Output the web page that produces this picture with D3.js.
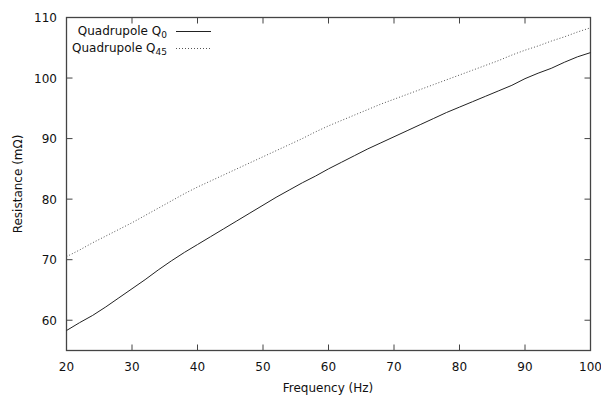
<!DOCTYPE html>
<html><head><meta charset="utf-8">
<script src="https://cdn.jsdelivr.net/npm/d3@7"></script>
<style>body{margin:0;background:#fff}svg{display:block}text{font-family:"DejaVu Sans",sans-serif;fill:#111}</style>
</head><body><svg id="c" width="601" height="402"></svg>
<script>
const freq = [20,22,24,26,28,30,32,34,36,38,40,42,44,46,48,50,52,54,56,58,60,62,64,66,68,70,72,74,76,78,80,82,84,86,88,90,92,94,96,98,100];
const q0 = [58.3,59.6,60.8,62.2,63.7,65.2,66.7,68.3,69.8,71.2,72.5,73.8,75.1,76.4,77.7,79.0,80.3,81.5,82.7,83.8,85.0,86.1,87.2,88.3,89.3,90.3,91.3,92.3,93.3,94.3,95.2,96.1,97.0,97.9,98.8,99.9,100.8,101.6,102.6,103.5,104.2];
const q45 = [70.5,71.6,72.8,73.9,75.0,76.1,77.3,78.5,79.7,80.9,82.0,83.0,84.0,85.0,86.0,87.0,88.0,89.0,90.0,91.1,92.1,93.0,93.9,94.8,95.7,96.5,97.3,98.1,98.9,99.7,100.5,101.3,102.1,102.9,103.8,104.6,105.3,106.1,106.8,107.6,108.3];
const xTicks = [20,30,40,50,60,70,80,90,100];
const yTicks = [60,70,80,90,100,110];

const svg = d3.select("#c");
const L=66.5, R=590.5, T=17.5, B=350.5;
const x = d3.scaleLinear().domain([20,100]).range([L,R]);
const y = d3.scaleLinear().domain([55,110]).range([B,T]);
const axisCol="#444", tl=6;

const g = svg.append("g").attr("stroke",axisCol).attr("stroke-width",1);
xTicks.forEach(v=>{
  g.append("line").attr("x1",x(v)).attr("x2",x(v)).attr("y1",B).attr("y2",B-tl);
  g.append("line").attr("x1",x(v)).attr("x2",x(v)).attr("y1",T).attr("y2",T+tl);
});
yTicks.forEach(v=>{
  g.append("line").attr("x1",L).attr("x2",L+tl).attr("y1",y(v)).attr("y2",y(v));
  g.append("line").attr("x1",R).attr("x2",R-tl).attr("y1",y(v)).attr("y2",y(v));
});
svg.append("rect").attr("x",L).attr("y",T).attr("width",R-L).attr("height",B-T)
  .attr("fill","none").attr("stroke",axisCol).attr("stroke-width",1.3);

xTicks.forEach(v=>svg.append("text").attr("x",x(v)).attr("y",371).attr("text-anchor","middle").attr("font-size",12).text(v));
yTicks.forEach(v=>svg.append("text").attr("x",57).attr("y",y(v)+4.5).attr("text-anchor","end").attr("font-size",12).text(v));

svg.append("text").attr("x",328).attr("y",392).attr("text-anchor","middle").attr("font-size",12).text("Frequency (Hz)");
svg.append("text").attr("transform","translate(22,"+((T+B)/2)+") rotate(-90)").attr("text-anchor","middle").attr("font-size",12).text("Resistance (mΩ)");

const line = d3.line().x((d,i)=>x(freq[i])).y(d=>y(d));
svg.append("path").attr("d",line(q0)).attr("fill","none").attr("stroke","#222").attr("stroke-width",1);
svg.append("path").attr("d",line(q45)).attr("fill","none").attr("stroke","#555").attr("stroke-width",1).attr("stroke-dasharray","1,2");

function leg(yy, main, sub, dash){
  const t = svg.append("text").attr("x",167).attr("y",yy+4).attr("text-anchor","end").attr("font-size",12);
  t.append("tspan").text(main);
  t.append("tspan").attr("font-size",9).attr("dy",3).text(sub);
  const l = svg.append("line").attr("x1",176).attr("x2",211).attr("y1",yy+0.5).attr("y2",yy+0.5)
    .attr("stroke",dash?"#555":"#222").attr("stroke-width",1);
  if(dash) l.attr("stroke-dasharray","1,2");
}
leg(31,"Quadrupole Q","0",false);
leg(48,"Quadrupole Q","45",true);
</script></body></html>
